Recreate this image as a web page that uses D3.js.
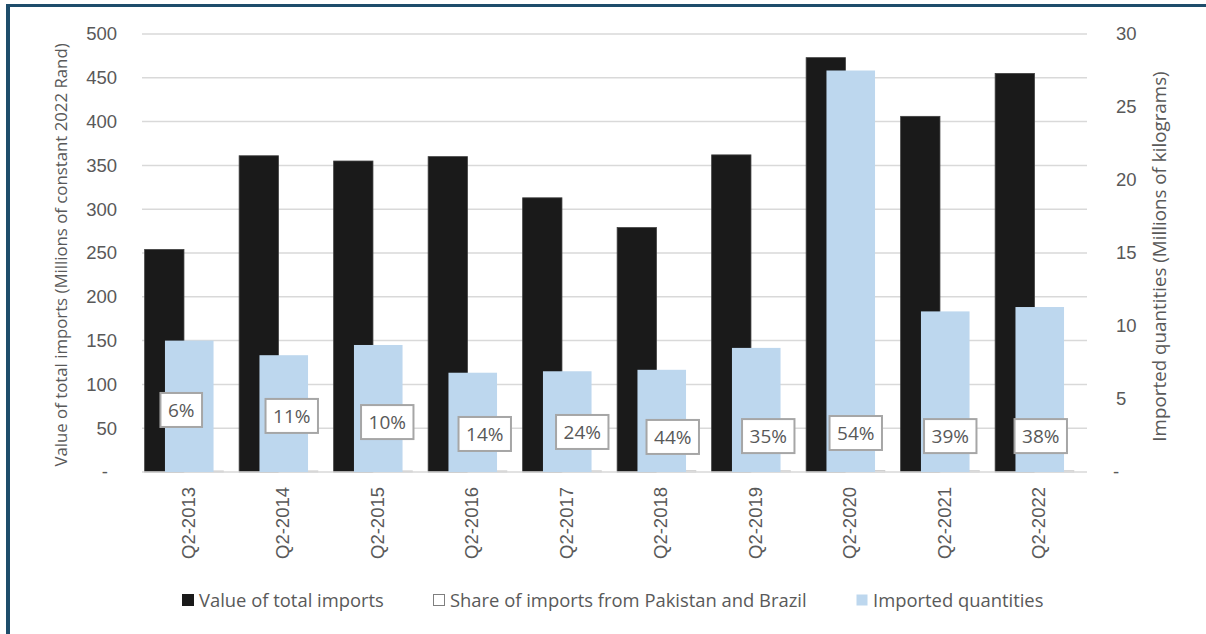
<!DOCTYPE html>
<html>
<head>
<meta charset="utf-8">
<script src="https://cdn.jsdelivr.net/npm/d3@7"></script>
<style>
  body { margin: 0; background: #fff; }
  svg { display: block; font-family: 'Open Sans', sans-serif; }
  .tick text { fill: #595959; }
</style>
</head>
<body>
<div id="chart"></div>
<script>
// chart data
const quarters = ['Q2-2013', 'Q2-2014', 'Q2-2015', 'Q2-2016', 'Q2-2017', 'Q2-2018', 'Q2-2019', 'Q2-2020', 'Q2-2021', 'Q2-2022'];
const totalImports = [254, 361, 355, 360, 313, 279, 362, 473, 406, 455];   // millions of constant 2022 Rand
const shareFromPkBr = [0.06, 0.11, 0.10, 0.14, 0.24, 0.44, 0.35, 0.54, 0.39, 0.38];
const importedQty = [9.0, 8.0, 8.7, 6.8, 6.9, 7.0, 8.5, 27.5, 11.0, 11.3]; // millions of kg
const leftTicks = [0, 50, 100, 150, 200, 250, 300, 350, 400, 450, 500];
const rightTicks = [0, 5, 10, 15, 20, 25, 30];

// where the share labels were dragged to (left-axis units, px from band centre)
const labelAt = [70.8, 64, 57, 43.4, 45.7, 40, 41, 44.5, 41, 41];
const labelDx = [-8, 8, 9, 12, 15, 11, 12, 5, 5, 1];

const width = 1206, height = 634;
const plot = { left: 142, right: 1087, top: 34, bottom: 472 };

const svg = d3.select('#chart').append('svg')
  .attr('width', width)
  .attr('height', height);

// frame
svg.append('rect').attr('x', 6).attr('y', 4).attr('width', 4).attr('height', height - 4).attr('fill', '#1e4d6b');
svg.append('rect').attr('x', 6).attr('y', 4).attr('width', width - 6).attr('height', 3).attr('fill', '#1e4d6b');

const x = d3.scaleBand().domain(quarters).range([plot.left, plot.right]);
const bw = x.bandwidth();
const yL = d3.scaleLinear().domain([0, 500]).range([plot.bottom, plot.top]);
const yR = d3.scaleLinear().domain([0, 30]).range([plot.bottom, plot.top]);

// gridlines
svg.append('g')
  .selectAll('line')
  .data(leftTicks.slice(1))
  .enter()
  .append('line')
  .attr('x1', plot.left).attr('x2', plot.right)
  .attr('y1', d => yL(d)).attr('y2', d => yL(d))
  .attr('stroke', '#d9d9d9')
  .attr('stroke-width', 1.5);

// value of total imports
svg.append('g')
  .selectAll('rect')
  .data(totalImports)
  .enter()
  .append('rect')
  .attr('x', (d, i) => x(quarters[i]) + bw * 0.028)
  .attr('width', bw * 0.416)
  .attr('y', d => yL(d))
  .attr('height', d => yL(0) - yL(d))
  .attr('fill', '#1a1a1a')
  .attr('stroke', '#404040')
  .attr('stroke-width', 0.8);

// share (tiny on the value axis)
svg.append('g')
  .selectAll('rect')
  .data(shareFromPkBr)
  .enter()
  .append('rect')
  .attr('x', (d, i) => x(quarters[i]) + bw * 0.444)
  .attr('width', bw * 0.416)
  .attr('y', d => yL(d) - 1)
  .attr('height', d => yL(0) - yL(d) + 1)
  .attr('fill', '#fff')
  .attr('stroke', '#d0d0d0')
  .attr('stroke-width', 1);

// axis line
svg.append('line')
  .attr('x1', plot.left).attr('x2', plot.right)
  .attr('y1', plot.bottom).attr('y2', plot.bottom)
  .attr('stroke', '#d9d9d9')
  .attr('stroke-width', 1.5);

// imported quantities (secondary axis)
svg.append('g')
  .selectAll('rect')
  .data(importedQty)
  .enter()
  .append('rect')
  .attr('x', (d, i) => x(quarters[i]) + bw * 0.243)
  .attr('width', bw * 0.514)
  .attr('y', d => yR(d))
  .attr('height', d => yR(0) - yR(d))
  .attr('fill', '#bdd7ee');

// share labels
const lbl = svg.append('g')
  .selectAll('g')
  .data(shareFromPkBr)
  .enter()
  .append('g')
  .attr('transform', (d, i) => `translate(${x(quarters[i]) + bw / 2 + labelDx[i]},${yL(labelAt[i])})`);

lbl.append('rect')
  .attr('fill', '#fff')
  .attr('stroke', '#a6a6a6')
  .attr('stroke-width', 2);

lbl.append('text')
  .attr('text-anchor', 'middle')
  .attr('dy', '0.36em')
  .style('font-size', '19px')
  .style('fill', '#595959')
  .text(d => d3.format('.0%')(d));

lbl.each(function () {
  const g = d3.select(this);
  const w = g.select('text').node().getComputedTextLength() + 15;
  g.select('rect').attr('x', -w / 2).attr('y', -17).attr('width', w).attr('height', 34);
});

// axes
const fmt = d => (d === 0 ? '-' : d);

const axL = svg.append('g')
  .attr('transform', `translate(${plot.left},0)`)
  .call(d3.axisLeft(yL).tickValues(leftTicks).tickFormat(fmt).tickSize(0).tickPadding(25));
axL.select('.domain').remove();
axL.selectAll('text').style('font-size', '18.5px');
axL.selectAll('.tick').filter(d => d === 0).select('text').attr('x', -34);

const axR = svg.append('g')
  .attr('transform', `translate(${plot.right},0)`)
  .call(d3.axisRight(yR).tickValues(rightTicks).tickFormat(fmt).tickSize(0).tickPadding(29));
axR.select('.domain').remove();
axR.selectAll('text').style('font-size', '18.5px');
axR.selectAll('.tick').filter(d => d === 0).select('text').attr('x', 26);

const axB = svg.append('g')
  .attr('transform', `translate(0,${plot.bottom})`)
  .call(d3.axisBottom(x).tickSize(0).tickPadding(0));
axB.select('.domain').remove();
axB.selectAll('text')
  .style('font-size', '18.5px')
  .attr('text-anchor', 'end')
  .attr('transform', 'rotate(-90)')
  .attr('x', -15)
  .attr('y', -1)
  .attr('dy', '0.36em');

// axis titles
svg.append('text')
  .attr('transform', `translate(67,${(plot.top + plot.bottom) / 2 + 2}) rotate(-90)`)
  .attr('text-anchor', 'middle')
  .style('font-size', '16.8px')
  .style('fill', '#595959')
  .text('Value of total imports (Millions of constant 2022 Rand)');

svg.append('text')
  .attr('transform', `translate(1166,${(70 + 443) / 2}) rotate(-90)`)
  .attr('text-anchor', 'middle')
  .style('font-size', '18.8px')
  .style('fill', '#595959')
  .text('Imported quantities (Millions of kilograms)');

// legend
const legendItems = [
  { name: 'Value of total imports', fill: '#1a1a1a', stroke: '#1a1a1a', x: 182 },
  { name: 'Share of imports from Pakistan and Brazil', fill: '#fff', stroke: '#7f7f7f', x: 433 },
  { name: 'Imported quantities', fill: '#bdd7ee', stroke: 'none', x: 856 },
];

const leg = svg.append('g')
  .selectAll('g')
  .data(legendItems)
  .enter()
  .append('g')
  .attr('transform', d => `translate(${d.x},594)`);

leg.append('rect')
  .attr('x', 0.5).attr('y', 0.5)
  .attr('width', 11).attr('height', 11)
  .attr('fill', d => d.fill)
  .attr('stroke', d => d.stroke);

leg.append('text')
  .attr('x', 17)
  .attr('y', 6)
  .attr('dy', '0.36em')
  .style('font-size', '18.4px')
  .style('fill', '#595959')
  .text(d => d.name);
</script>
</body>
</html>
